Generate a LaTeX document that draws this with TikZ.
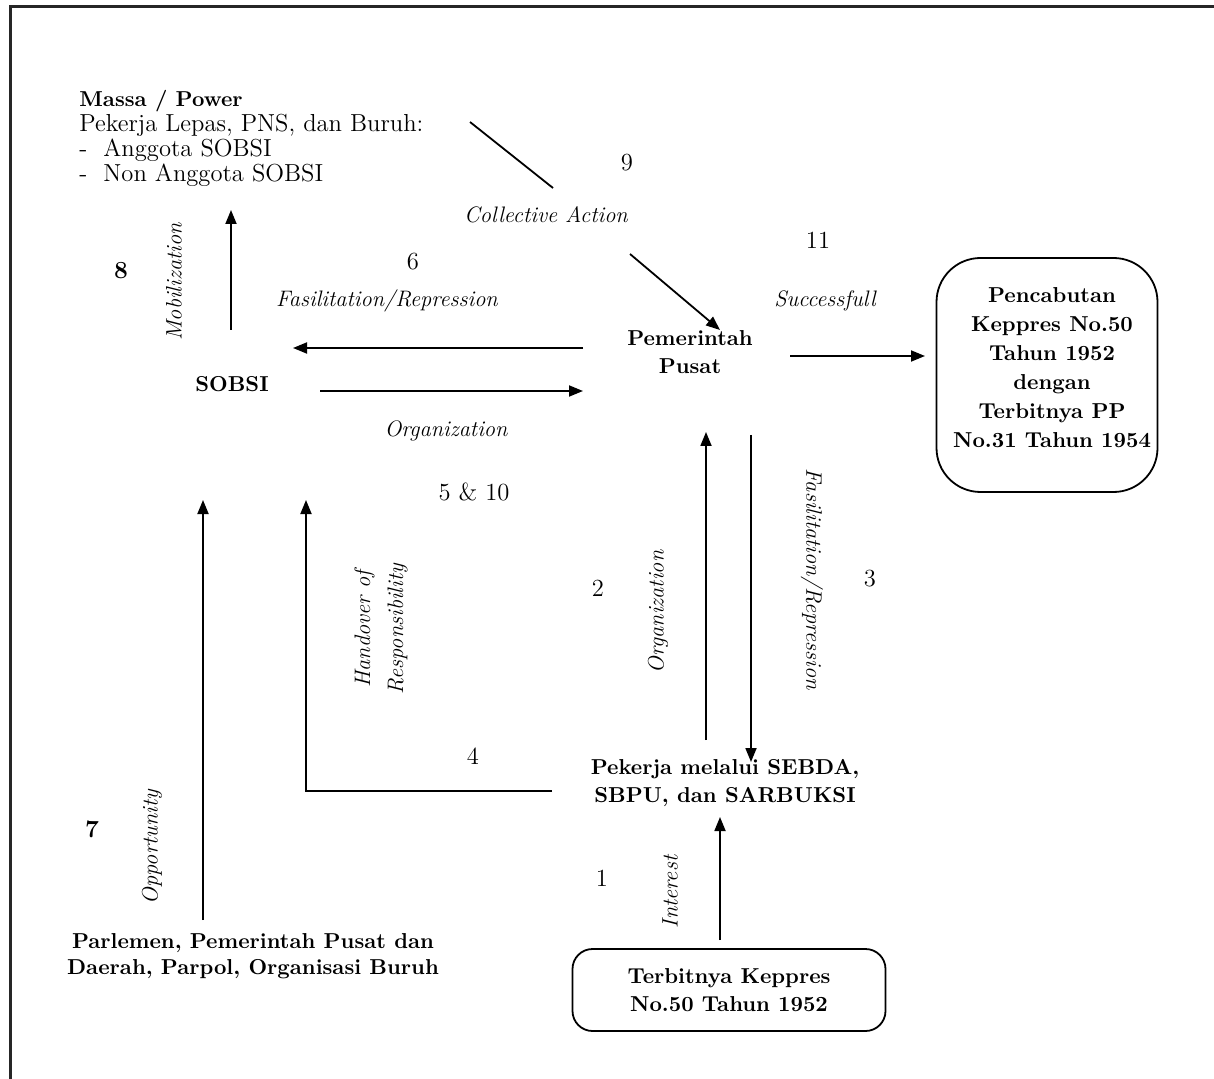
\documentclass[tikz,border=0pt]{standalone}
\usetikzlibrary{arrows.meta}
\begin{document}
\begin{tikzpicture}[x=0.5pt,y=-0.5pt,
  every node/.style={font=\fontsize{12.3}{14}\selectfont, inner sep=0pt},
  lbl/.style={font=\fontsize{11.2}{13}\selectfont\itshape},
  bnode/.style={font=\fontsize{10.8}{14}\selectfont\bfseries, align=center},
  arr/.style={line width=0.9pt, -{Triangle[length=7pt,width=5.5pt]}},
  ln/.style={line width=0.9pt},
  rbox/.style={draw, line width=0.9pt}
]
\useasboundingbox (0,0) rectangle (1214,1079);
% frame
\draw[line width=1.5pt, black!85] (10,1079) -- (10,7) -- (1214,7);

% main nodes
\node[align=left, anchor=north west, font=\fontsize{12.3}{12.5}\selectfont] (massa) at (79,90)
  {\textbf{\fontsize{10.8}{12.5}\selectfont Massa / Power}\\Pekerja Lepas, PNS, dan Buruh:\\-\ \ Anggota SOBSI\\-\ \ Non Anggota SOBSI};
\node[bnode] (sobsi) at (232,384) {SOBSI};
\node[bnode] (pem) at (690,352) {Pemerintah\\Pusat};
\node[rbox, rounded corners=22pt, minimum width=110.5pt, minimum height=117pt] (hasil) at (1047,375) {};
\node[bnode, font=\fontsize{10.8}{14.5}\selectfont\bfseries] (hasiltxt) at (1052,368)
  {Pencabutan\\Keppres No.50\\Tahun 1952\\dengan\\Terbitnya PP\\No.31 Tahun 1954};
\node[bnode] (pekerja) at (725,783) {Pekerja melalui SEBDA,\\SBPU, dan SARBUKSI};
\node[rbox, rounded corners=10pt, minimum width=156.5pt, minimum height=41pt, bnode] (keppres) at (729,990)
  {Terbitnya Keppres\\No.50 Tahun 1952};
\node[bnode, font=\fontsize{10.8}{13}\selectfont\bfseries] (parlemen) at (253,956)
  {Parlemen, Pemerintah Pusat dan\\Daerah, Parpol, Organisasi Buruh};

% connector coordinates
\coordinate (ca1) at (470,122);
\coordinate (ca2) at (553,188);
\coordinate (ca3) at (630,254);
\coordinate (ca4) at (720,330);
\coordinate (mob1) at (231,330);
\coordinate (mob2) at (231,210);
\coordinate (fr1) at (583,348);
\coordinate (fr2) at (293,348);
\coordinate (or1) at (320,391);
\coordinate (or2) at (583,391);
\coordinate (su1) at (790,356);
\coordinate (su2) at (925,356);
\coordinate (po1) at (706,740);
\coordinate (po2) at (706,432);
\coordinate (pf1) at (751,435);
\coordinate (pf2) at (751,762);
\coordinate (ho1) at (552,791);
\coordinate (ho2) at (306,791);
\coordinate (ho3) at (306,500);
\coordinate (in1) at (720,940);
\coordinate (in2) at (720,817);
\coordinate (op1) at (203,920);
\coordinate (op2) at (203,500);

% connectors
\draw[ln] (ca1) -- (ca2);
\draw[arr] (ca3) -- (ca4);
\draw[arr] (mob1) -- (mob2);
\draw[arr] (fr1) -- (fr2);
\draw[arr] (or1) -- (or2);
\draw[arr] (su1) -- (su2);
\draw[arr] (po1) -- (po2);
\draw[arr] (pf1) -- (pf2);
\draw[arr] (ho1) -- (ho2) -- (ho3);
\draw[arr] (in1) -- (in2);
\draw[arr] (op1) -- (op2);

% labels
\node (n9) at (627,163) {9};
\node[lbl] (lca) at (546,215) {Collective Action};
\node (n11) at (818,240) {11};
\node (n6) at (413,262) {6};
\node[font=\fontsize{12.3}{14}\selectfont\bfseries] (n8) at (121,271) {8};
\node[lbl, rotate=90] (lmob) at (174,282) {Mobilization};
\node[lbl] (lfr) at (387,301) {Fasilitation/Repression};
\node[lbl] (lsu) at (825,301) {Successfull};
\node[lbl] (lor) at (446,431) {Organization};
\node (n510) at (474,492) {5 \& 10};
\node[lbl, rotate=-90] (lpf) at (812,579) {Fasilitation/Repression};
\node (n3) at (870,579) {3};
\node[lbl, rotate=90] (lpo) at (658,612) {Organization};
\node (n2) at (598,588) {2};
\node[lbl, rotate=90, align=center, font=\fontsize{11.2}{16.5}\selectfont\itshape] (lho) at (381,629) {Handover of\\Responsibility};
\node (n4) at (473,756) {4};
\node (n1) at (602,878) {1};
\node[lbl, rotate=90] (lin) at (670,892) {Interest};
\node[lbl, rotate=90] (lop) at (152,847) {Opportunity};
\node[font=\fontsize{12.3}{14}\selectfont\bfseries] (n7) at (92,829) {7};
\end{tikzpicture}
\end{document}
